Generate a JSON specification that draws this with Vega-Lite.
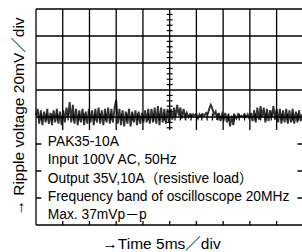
{
  "$schema": "https://vega.github.io/schema/vega-lite/v6.json",
  "autosize": {"type": "none"},
  "padding": {"left": 36, "top": 9, "right": 0, "bottom": 27},
  "width": 266,
  "height": 216,
  "background": "white",
  "view": {"stroke": null},
  "config": {"font": "Liberation Sans, Noto Sans CJK JP"},
  "datasets": {
    "trace": [
      {"t":0.00,"v":0.05},{"t":0.06,"v":0.3},{"t":0.12,"v":-0.25},{"t":0.18,"v":0.25},{"t":0.24,"v":-0.3},
      {"t":0.30,"v":0.2},{"t":0.36,"v":-0.2},{"t":0.42,"v":0.3},{"t":0.48,"v":-0.25},{"t":0.54,"v":0.15},
      {"t":0.60,"v":-0.3},{"t":0.66,"v":0.25},{"t":0.72,"v":-0.2},{"t":0.78,"v":0.3},{"t":0.84,"v":-0.25},
      {"t":0.90,"v":0.2},{"t":0.96,"v":-0.3},{"t":1.02,"v":0.25},{"t":1.08,"v":-0.2},{"t":1.14,"v":0.35},
      {"t":1.20,"v":0.0},{"t":1.26,"v":0.55},{"t":1.32,"v":-0.2},{"t":1.38,"v":0.45},{"t":1.44,"v":-0.25},
      {"t":1.50,"v":0.3},{"t":1.56,"v":-0.3},{"t":1.62,"v":0.25},{"t":1.68,"v":-0.2},{"t":1.74,"v":0.3},
      {"t":1.80,"v":-0.3},{"t":1.86,"v":0.2},{"t":1.92,"v":-0.25},{"t":1.98,"v":0.3},{"t":2.04,"v":-0.2},
      {"t":2.10,"v":0.25},{"t":2.16,"v":-0.3},{"t":2.22,"v":0.3},{"t":2.28,"v":-0.2},{"t":2.34,"v":0.35},
      {"t":2.40,"v":-0.25},{"t":2.46,"v":0.25},{"t":2.52,"v":-0.3},{"t":2.58,"v":0.3},{"t":2.64,"v":-0.2},
      {"t":2.70,"v":0.35},{"t":2.76,"v":-0.25},{"t":2.82,"v":0.3},{"t":2.88,"v":-0.2},{"t":2.94,"v":0.35},
      {"t":3.00,"v":0.63},{"t":3.06,"v":-0.25},{"t":3.12,"v":0.3},{"t":3.18,"v":-0.3},{"t":3.24,"v":0.25},
      {"t":3.30,"v":-0.35},{"t":3.36,"v":0.2},{"t":3.42,"v":-0.25},{"t":3.48,"v":0.3},{"t":3.54,"v":-0.35},
      {"t":3.60,"v":0.2},{"t":3.66,"v":-0.2},{"t":3.72,"v":0.25},{"t":3.78,"v":-0.3},{"t":3.84,"v":0.2},
      {"t":3.90,"v":-0.25},{"t":3.96,"v":0.15},{"t":4.02,"v":-0.2},{"t":4.08,"v":0.25},{"t":4.14,"v":-0.2},
      {"t":4.20,"v":0.3},{"t":4.26,"v":-0.25},{"t":4.32,"v":0.3},{"t":4.38,"v":-0.2},{"t":4.44,"v":0.35},
      {"t":4.50,"v":-0.25},{"t":4.56,"v":0.4},{"t":4.62,"v":-0.3},{"t":4.68,"v":0.35},{"t":4.74,"v":-0.2},
      {"t":4.80,"v":0.3},{"t":4.86,"v":-0.25},{"t":4.92,"v":0.3},{"t":4.98,"v":-0.2},{"t":5.04,"v":0.3},
      {"t":5.10,"v":-0.1},{"t":5.16,"v":0.35},{"t":5.22,"v":0.0},{"t":5.28,"v":0.45},{"t":5.34,"v":0.05},
      {"t":5.40,"v":0.35},{"t":5.46,"v":-0.05},{"t":5.52,"v":0.3},{"t":5.58,"v":0.0},{"t":5.64,"v":0.15},
      {"t":5.70,"v":0.0},{"t":5.76,"v":0.1},{"t":5.82,"v":0.0},{"t":5.88,"v":0.1},{"t":5.94,"v":0.05},
      {"t":6.00,"v":0.12},{"t":6.06,"v":-0.05},{"t":6.12,"v":0.1},{"t":6.18,"v":0.0},{"t":6.24,"v":0.1},
      {"t":6.30,"v":0.05},{"t":6.36,"v":0.15},{"t":6.42,"v":0.1},{"t":6.48,"v":0.3},{"t":6.54,"v":0.45},
      {"t":6.60,"v":0.3},{"t":6.66,"v":0.1},{"t":6.72,"v":0.2},{"t":6.78,"v":-0.1},{"t":6.84,"v":0.15},
      {"t":6.90,"v":-0.15},{"t":6.96,"v":0.1},{"t":7.02,"v":-0.1},{"t":7.08,"v":0.15},{"t":7.14,"v":-0.2},
      {"t":7.20,"v":0.1},{"t":7.26,"v":-0.35},{"t":7.32,"v":0.05},{"t":7.38,"v":-0.3},{"t":7.44,"v":0.05},
      {"t":7.50,"v":-0.05},{"t":7.56,"v":0.1},{"t":7.62,"v":0.0},{"t":7.68,"v":0.05},{"t":7.74,"v":0.0},
      {"t":7.80,"v":0.1},{"t":7.86,"v":0.0},{"t":7.92,"v":0.1},{"t":7.98,"v":-0.05},{"t":8.04,"v":0.15},
      {"t":8.10,"v":-0.15},{"t":8.16,"v":0.25},{"t":8.22,"v":-0.2},{"t":8.28,"v":0.35},{"t":8.34,"v":-0.1},
      {"t":8.40,"v":0.4},{"t":8.46,"v":0.0},{"t":8.52,"v":0.35},{"t":8.58,"v":-0.2},{"t":8.64,"v":0.3},
      {"t":8.70,"v":-0.15},{"t":8.76,"v":0.25},{"t":8.82,"v":0.0},{"t":8.88,"v":0.4},{"t":8.94,"v":-0.1},
      {"t":9.00,"v":0.3},{"t":9.06,"v":-0.2},{"t":9.12,"v":0.3},{"t":9.18,"v":-0.25},{"t":9.24,"v":0.25},
      {"t":9.30,"v":-0.2},{"t":9.36,"v":0.3},{"t":9.42,"v":-0.25},{"t":9.48,"v":0.25},{"t":9.54,"v":-0.2},
      {"t":9.60,"v":0.3},{"t":9.66,"v":-0.25},{"t":9.72,"v":0.2},{"t":9.78,"v":-0.2},{"t":9.84,"v":0.25},
      {"t":9.90,"v":-0.15},{"t":9.96,"v":0.1}
    ],
    "vlines": [{"g":0},{"g":1},{"g":2},{"g":3},{"g":4},{"g":5},{"g":6},{"g":7},{"g":8},{"g":9}],
    "hlines": [{"g":-4},{"g":-3},{"g":-2},{"g":-1},{"g":0},{"g":1},{"g":2},{"g":3},{"g":4}],
    "vticks": [
      {"m":-3.8},{"m":-3.6},{"m":-3.4},{"m":-3.2},{"m":-2.8},{"m":-2.6},{"m":-2.4},{"m":-2.2},
      {"m":-1.8},{"m":-1.6},{"m":-1.4},{"m":-1.2},{"m":-0.8},{"m":-0.6},{"m":-0.4},{"m":-0.2},
      {"m":0.2},{"m":0.4},{"m":0.6},{"m":0.8},{"m":1.2},{"m":1.4},{"m":1.6},{"m":1.8},
      {"m":2.2},{"m":2.4},{"m":2.6},{"m":2.8},{"m":3.2},{"m":3.4},{"m":3.6},{"m":3.8}
    ],
    "hticks": [
      {"m":0.2},{"m":0.4},{"m":0.6},{"m":0.8},{"m":1.2},{"m":1.4},{"m":1.6},{"m":1.8},
      {"m":2.2},{"m":2.4},{"m":2.6},{"m":2.8},{"m":3.2},{"m":3.4},{"m":3.6},{"m":3.8},
      {"m":4.2},{"m":4.4},{"m":4.6},{"m":4.8},{"m":5.2},{"m":5.4},{"m":5.6},{"m":5.8},
      {"m":6.2},{"m":6.4},{"m":6.6},{"m":6.8},{"m":7.2},{"m":7.4},{"m":7.6},{"m":7.8},
      {"m":8.2},{"m":8.4},{"m":8.6},{"m":8.8},{"m":9.2},{"m":9.4},{"m":9.6},{"m":9.8}
    ],
    "notes": [
      {"line":"PAK35-10A","row":-1.07},
      {"line":"Input 100V AC, 50Hz","row":-1.75},
      {"line":"Output 35V,10A（resistive load）","row":-2.43},
      {"line":"Frequency band of oscilloscope 20MHz","row":-3.11},
      {"line":"Max. 37mVp－p","row":-3.78}
    ]
  },
  "layer": [
    {
      "data": {"name": "trace"},
      "mark": {"type": "line", "color": "#333333", "strokeWidth": 1.9, "interpolate": "linear"},
      "encoding": {
        "x": {"field": "t", "type": "quantitative", "scale": {"domain": [0, 9.95], "nice": false, "zero": false},
              "axis": {"title": "→Time 5ms／div", "labels": false, "ticks": false, "domain": false, "grid": false,
                       "titleFontSize": 15.5, "titleFontWeight": "normal", "titleColor": "#000", "titlePadding": 11, "titleX": 125}},
        "y": {"field": "v", "type": "quantitative", "scale": {"domain": [-4, 4], "nice": false, "zero": false},
              "axis": {"title": "→ Ripple voltage 20mV／div", "labels": false, "ticks": false, "domain": false, "grid": false,
                       "titleFontSize": 15.5, "titleFontWeight": "normal", "titleColor": "#000", "titlePadding": 10, "titleY": 107}}
      }
    },
    {
      "data": {"name": "vlines"},
      "mark": {"type": "rule", "color": "#000", "strokeWidth": 1.3},
      "encoding": {
        "x": {"field": "g", "type": "quantitative"},
        "y": {"datum": -4},
        "y2": {"datum": 4}
      }
    },
    {
      "data": {"name": "hlines"},
      "mark": {"type": "rule", "color": "#000", "strokeWidth": 1.3},
      "encoding": {
        "y": {"field": "g", "type": "quantitative"},
        "x": {"datum": 0},
        "x2": {"datum": 9.95}
      }
    },
    {
      "data": {"name": "vticks"},
      "mark": {"type": "rule", "color": "#000", "strokeWidth": 1.2},
      "encoding": {
        "y": {"field": "m", "type": "quantitative"},
        "x": {"datum": 4.89},
        "x2": {"datum": 5.11}
      }
    },
    {
      "data": {"name": "hticks"},
      "mark": {"type": "rule", "color": "#000", "strokeWidth": 1.2},
      "encoding": {
        "x": {"field": "m", "type": "quantitative"},
        "y": {"datum": -0.13},
        "y2": {"datum": 0.13}
      }
    },
    {
      "data": {"values": [{}]},
      "mark": {"type": "rect", "color": "white", "opacity": 1},
      "encoding": {
        "x": {"datum": 0.2},
        "x2": {"datum": 9.78},
        "y": {"datum": -0.48},
        "y2": {"datum": -3.85}
      }
    },
    {
      "data": {"name": "notes"},
      "mark": {"type": "text", "align": "left", "baseline": "alphabetic", "fontSize": 13.8, "color": "#000"},
      "encoding": {
        "x": {"datum": 0.44},
        "y": {"field": "row", "type": "quantitative"},
        "text": {"field": "line"}
      }
    }
  ]
}
